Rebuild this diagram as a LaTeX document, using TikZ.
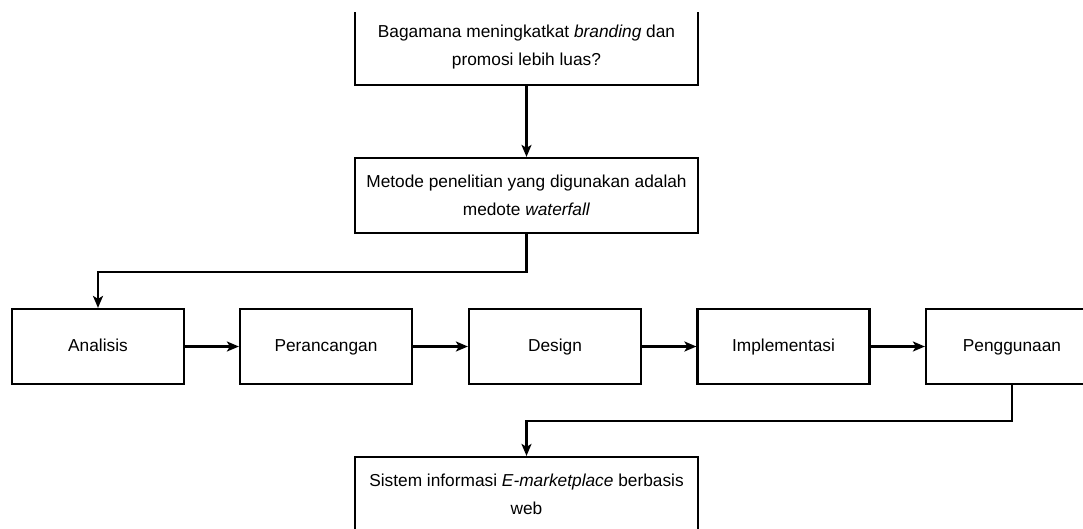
\documentclass[tikz,border=0pt]{standalone}
\usepackage{fontspec}
\setmainfont{Liberation Sans}
\usetikzlibrary{arrows.meta}
\begin{document}
\begin{tikzpicture}[x=1pt,y=-1pt,
 box/.style={draw=black, line width=2.2pt, rectangle, inner sep=0pt, minimum height=75pt, align=center, font=\fontsize{17.3}{28}\selectfont},
 wide/.style={box, minimum width=343pt},
 stage/.style={box, minimum width=172pt, text height=12.5pt, text depth=3.5pt},
 link/.style={line width=2.2pt, -{Stealth[length=12pt,width=10pt,inset=3pt]}}
]
\useasboundingbox (0,0) rectangle (1083,528);
\clip (0,12) rectangle (1083,528);
\node[wide] (q) at (526.5,47.5) {Bagamana meningkatkat \textit{branding} dan\\promosi lebih luas?};
\node[wide] (m) at (526.5,195.5) {Metode penelitian yang digunakan adalah\\medote \textit{waterfall}};
\node[stage] (a) at (98,346.5) {Analisis};
\node[stage] (p) at (326,346.5) {Perancangan};
\node[stage] (d) at (555,346.5) {Design};
\node[stage] (i) at (783.5,346.5) {Implementasi};
\node[stage] (g) at (1012,346.5) {Penggunaan};
\node[wide] (s) at (526.5,494.5) {Sistem informasi \textit{E-marketplace} berbasis\\web};
\draw[link] (q.south) -- (m.north);
\draw[link] (m.south) -- ++(0,38) -| (a.north);
\draw[link] (a.east) -- (p.west);
\draw[link] (p.east) -- (d.west);
\draw[link] (d.east) -- (i.west);
\draw[link] (i.east) -- (g.west);
\draw[link] (g.south) -- ++(0,36) -| (s.north);
\end{tikzpicture}
\end{document}
